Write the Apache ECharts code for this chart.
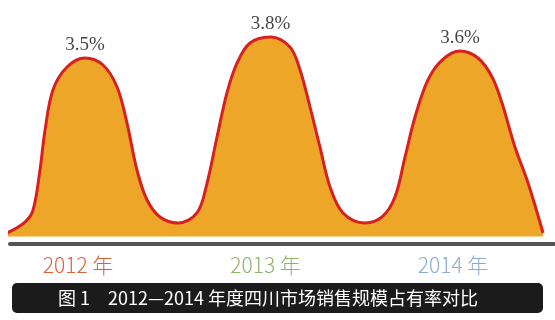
<!DOCTYPE html>
<html>
<head>
<meta charset="utf-8">
<script src="https://cdn.jsdelivr.net/npm/echarts@6/dist/echarts.min.js"></script>
<style>
html,body{margin:0;padding:0;background:#fff;}
#c{width:555px;height:320px;}
</style>
</head>
<body>
<div id="c"></div>
<script>
// Years and market share (%) shown at the peaks
var years = [2012, 2013, 2014];
var share = [3.5, 3.8, 3.6];
var yearLabels = ['2012 年', '2013 年', '2014 年'];
var caption = '图 1　2012—2014 年度四川市场销售规模占有率对比';

// Outline of the decorative curve (x in years, y in %)
var shapeX = [2011.584, 2011.68, 2011.723, 2011.76, 2011.787, 2011.829, 2011.904, 2012,
  2012.096, 2012.171, 2012.224, 2012.277, 2012.331, 2012.4, 2012.496,
  2012.597, 2012.651, 2012.704, 2012.757, 2012.811, 2012.88, 2012.99,
  2013.093, 2013.147, 2013.2, 2013.253, 2013.307, 2013.376, 2013.493,
  2013.584, 2013.653, 2013.707, 2013.76, 2013.829, 2013.904, 2014,
  2014.096, 2014.171, 2014.224, 2014.293, 2014.363, 2014.443];
var shapeY = [1.00, 1.157, 1.329, 1.90, 2.471, 3.043, 3.371, 3.5,
  3.40, 3.086, 2.571, 1.90, 1.471, 1.229, 1.143,
  1.286, 1.714, 2.371, 3.0, 3.429, 3.714, 3.8,
  3.657, 3.329, 2.80, 2.229, 1.657, 1.286, 1.143,
  1.229, 1.514, 2.086, 2.657, 3.186, 3.471, 3.6,
  3.5, 3.229, 2.857, 2.229, 1.714, 1.00];

var shapeData = shapeX.map(function (x, i) { return [x, shapeY[i]]; });
var peakData = years.map(function (y, i) { return [y === 2013 ? 2012.99 : y, share[i]]; });
var labelColors = ['#d9623a', '#8db26a', '#86acd2'];

var chart = echarts.init(document.getElementById('c'), null, {renderer: 'canvas'});
chart.setOption({
  animation: false,
  backgroundColor: '#ffffff',
  grid: {left: 10, right: 1.25, top: 23, bottom: 83.5},
  xAxis: {
    type: 'value', min: 2011.6, max: 2014.5,
    offset: 7,
    splitLine: {show: false},
    axisTick: {show: false},
    axisLine: {show: true, lineStyle: {color: '#555555', width: 4}},
    axisLabel: {
      customValues: years,
      margin: 11,
      padding: [0, 14, 0, 0],
      formatter: function (v) {
        var i = years.indexOf(Math.round(v));
        return '{l' + i + '|' + yearLabels[i] + '}';
      },
      rich: {
        l0: {color: labelColors[0], fontSize: 21, fontFamily: 'Noto Sans CJK SC', fontWeight: 300},
        l1: {color: labelColors[1], fontSize: 21, fontFamily: 'Noto Sans CJK SC', fontWeight: 300},
        l2: {color: labelColors[2], fontSize: 21, fontFamily: 'Noto Sans CJK SC', fontWeight: 300}
      }
    }
  },
  yAxis: {
    type: 'value', min: 0.95, max: 4.0, show: false
  },
  series: [
    {
      type: 'line',
      data: shapeData,
      smooth: 0.35,
      symbol: 'none',
      lineStyle: {color: '#d7201f', width: 3},
      areaStyle: {color: '#eea628', opacity: 1},
      z: 2
    },
    {
      type: 'scatter',
      data: peakData,
      symbolSize: 0,
      z: 3,
      label: {
        show: true,
        position: 'top',
        distance: 3,
        formatter: function (p) { return p.value[1].toFixed(1) + '%'; },
        fontFamily: 'Liberation Serif',
        fontSize: 19,
        color: '#111111'
      }
    }
  ],
  graphic: [
    {
      type: 'rect',
      shape: {x: 12, y: 283, width: 531, height: 30, r: 5},
      style: {fill: '#1b1b1b'}
    },
    {
      type: 'text',
      x: 58, y: 298,
      style: {
        text: caption,
        fill: '#ffffff',
        fontSize: 18,
        fontFamily: 'Noto Sans CJK SC',
        verticalAlign: 'middle',
        align: 'left'
      }
    }
  ]
});
</script>
</body>
</html>
